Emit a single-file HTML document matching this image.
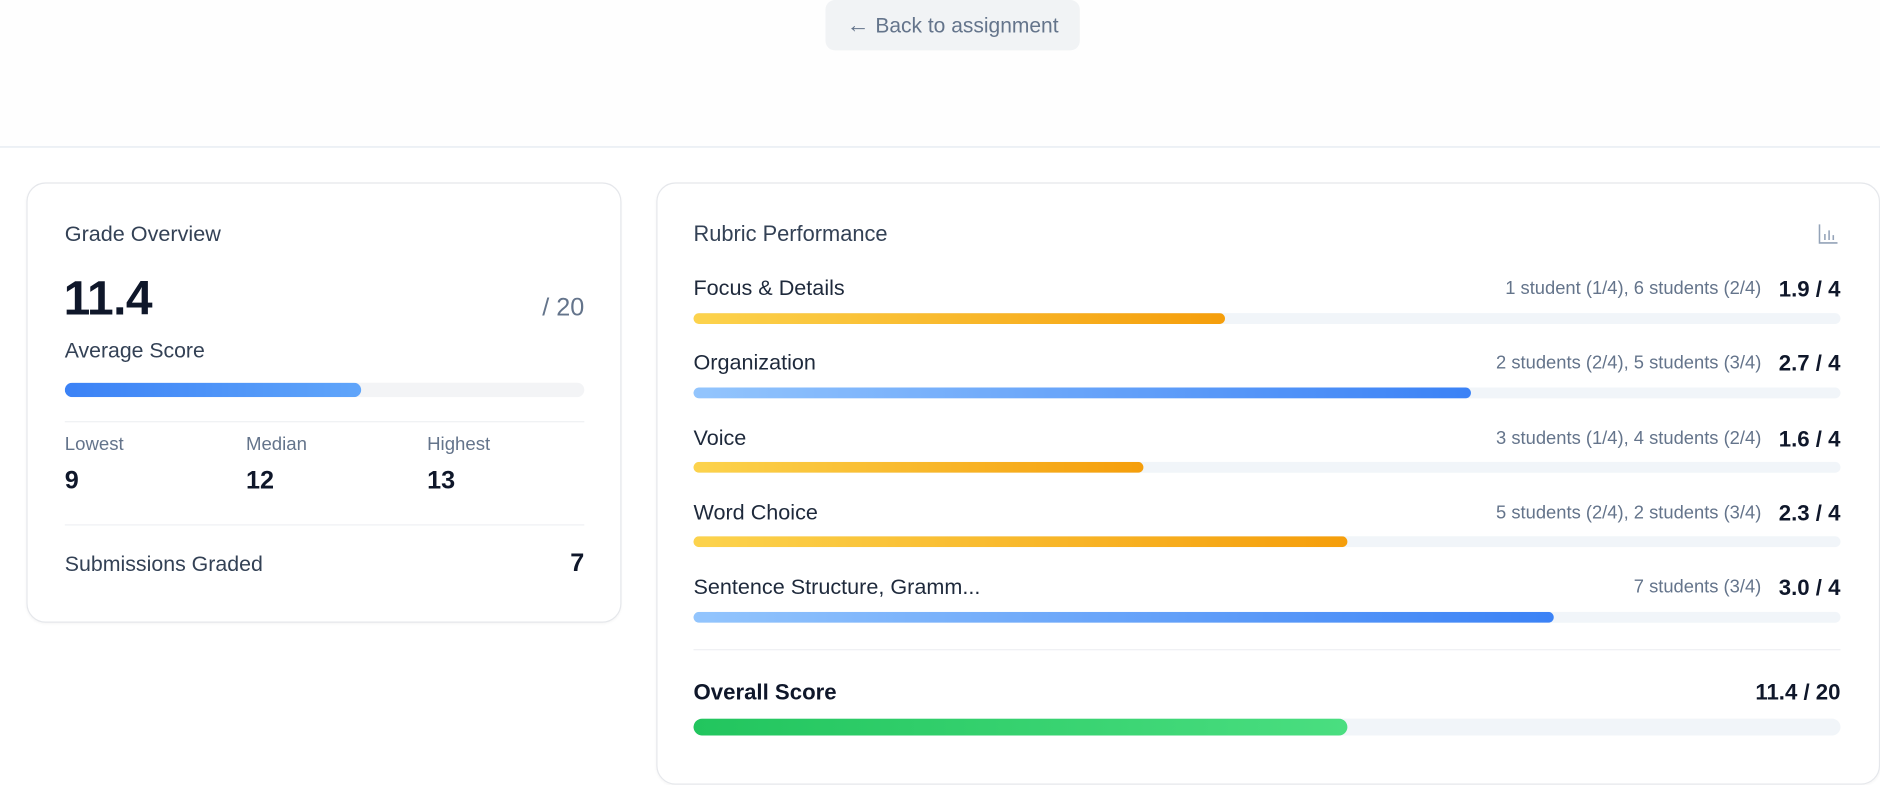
<!DOCTYPE html>
<html><head><meta charset="utf-8"><style>
html,body{margin:0;padding:0;width:1880px;height:760px;overflow:hidden;background:#fff}
#w{position:absolute;left:0;top:0;width:1567px;height:634px;transform:scale(1.1998);transform-origin:0 0;font-family:"Liberation Sans",sans-serif;}
.a{position:absolute;white-space:nowrap}
.card{position:absolute;border:1px solid #e5e7eb;border-radius:16px;background:#fff;box-shadow:0 1px 2px rgba(0,0,0,.04)}
.track{position:absolute;background:#f1f5f9;border-radius:6px;overflow:hidden}
.fill{position:absolute;left:0;top:0;bottom:0;border-radius:6px}
.y{background:linear-gradient(90deg,#fcd34d,#f59e0b)}
.b{background:linear-gradient(90deg,#93c5fd,#3b82f6)}
.lab{font-size:18px;color:#1e293b}
.cnt{font-size:15.3px;color:#64748b;text-align:right}
.sc{font-size:18.5px;font-weight:bold;color:#0f172a;text-align:right}
</style></head><body><div id="w">
<div class="a" style="left:0;top:0;width:1567px;height:122px;background:#fefefe;border-bottom:1px solid #e2e8f0"></div>
<div class="a" style="left:688px;top:0;width:212px;height:42px;background:#f1f3f5;border-radius:8px;color:#64748b;font-size:17.5px;line-height:42px;text-align:center"><span style="font-size:19px">←</span> Back to assignment</div>

<div class="card" style="left:22px;top:152px;width:494px;height:365px"></div>
<div class="a" style="left:54px;top:185px;font-size:18px;color:#334155">Grade Overview</div>
<div class="a" style="left:53px;top:227px;font-size:40px;font-weight:bold;color:#0f172a;letter-spacing:-0.5px">11.4</div>
<div class="a" style="left:387px;width:100px;text-align:right;top:245px;font-size:21px;color:#64748b">/ 20</div>
<div class="a" style="left:54px;top:282px;font-size:17.7px;color:#334155">Average Score</div>
<div class="track" style="left:54px;top:319px;width:433px;height:12px;background:#f3f4f6"><div class="fill" style="width:247px;background:linear-gradient(90deg,#3b82f6,#60a5fa)"></div></div>
<div class="a" style="left:54px;top:351px;width:433px;height:1px;background:#eef0f3"></div>
<div class="a" style="left:54px;top:362px;font-size:15.5px;color:#64748b">Lowest</div>
<div class="a" style="left:205px;top:362px;font-size:15.5px;color:#64748b">Median</div>
<div class="a" style="left:356px;top:362px;font-size:15.5px;color:#64748b">Highest</div>
<div class="a" style="left:54px;top:389px;font-size:21px;font-weight:bold;color:#0f172a">9</div>
<div class="a" style="left:205px;top:389px;font-size:21px;font-weight:bold;color:#0f172a">12</div>
<div class="a" style="left:356px;top:389px;font-size:21px;font-weight:bold;color:#0f172a">13</div>
<div class="a" style="left:54px;top:437px;width:433px;height:1px;background:#eef0f3"></div>
<div class="a" style="left:54px;top:460px;font-size:17.8px;color:#334155">Submissions Graded</div>
<div class="a" style="left:387px;width:100px;text-align:right;top:458px;font-size:21px;font-weight:bold;color:#0f172a">7</div>

<div class="card" style="left:547px;top:152px;width:1018px;height:500px"></div>
<div class="a" style="left:578px;top:185px;font-size:18.2px;color:#334155">Rubric Performance</div>
<svg class="a" style="left:1515px;top:186px" width="18" height="18" viewBox="0 0 18 18"><path d="M1.5 1v15.5h15M6 14V9M9.5 14V6M13 14V10" stroke="#94a3b8" stroke-width="1.3" fill="none"/></svg>

<div class="a lab" style="left:578px;top:230px">Focus &amp; Details</div>
<div class="a cnt" style="left:1068px;width:400px;top:232px">1 student (1/4), 6 students (2/4)</div>
<div class="a sc" style="left:1434px;width:100px;top:230px">1.9 / 4</div>
<div class="track" style="left:578px;top:261px;width:956px;height:9px"><div class="fill y" style="width:443px"></div></div>

<div class="a lab" style="left:578px;top:292px">Organization</div>
<div class="a cnt" style="left:1068px;width:400px;top:294px">2 students (2/4), 5 students (3/4)</div>
<div class="a sc" style="left:1434px;width:100px;top:292px">2.7 / 4</div>
<div class="track" style="left:578px;top:323px;width:956px;height:9px"><div class="fill b" style="width:648px"></div></div>

<div class="a lab" style="left:578px;top:355px">Voice</div>
<div class="a cnt" style="left:1068px;width:400px;top:357px">3 students (1/4), 4 students (2/4)</div>
<div class="a sc" style="left:1434px;width:100px;top:355px">1.6 / 4</div>
<div class="track" style="left:578px;top:385px;width:956px;height:9px"><div class="fill y" style="width:375px"></div></div>

<div class="a lab" style="left:578px;top:417px">Word Choice</div>
<div class="a cnt" style="left:1068px;width:400px;top:419px">5 students (2/4), 2 students (3/4)</div>
<div class="a sc" style="left:1434px;width:100px;top:417px">2.3 / 4</div>
<div class="track" style="left:578px;top:447px;width:956px;height:9px"><div class="fill y" style="width:545px"></div></div>

<div class="a lab" style="left:578px;top:479px">Sentence Structure, Gramm...</div>
<div class="a cnt" style="left:1068px;width:400px;top:481px">7 students (3/4)</div>
<div class="a sc" style="left:1434px;width:100px;top:479px">3.0 / 4</div>
<div class="track" style="left:578px;top:510px;width:956px;height:9px"><div class="fill b" style="width:717px"></div></div>

<div class="a" style="left:578px;top:541px;width:956px;height:1px;background:#eef0f3"></div>
<div class="a" style="left:578px;top:566px;font-size:18.5px;font-weight:bold;color:#0f172a">Overall Score</div>
<div class="a" style="left:1384px;width:150px;text-align:right;top:566px;font-size:18.5px;font-weight:bold;color:#0f172a">11.4 / 20</div>
<div class="track" style="left:578px;top:599px;width:956px;height:14px;border-radius:7px"><div class="fill" style="width:545px;border-radius:7px;background:linear-gradient(90deg,#22c55e,#4ade80)"></div></div>
</div></body></html>
